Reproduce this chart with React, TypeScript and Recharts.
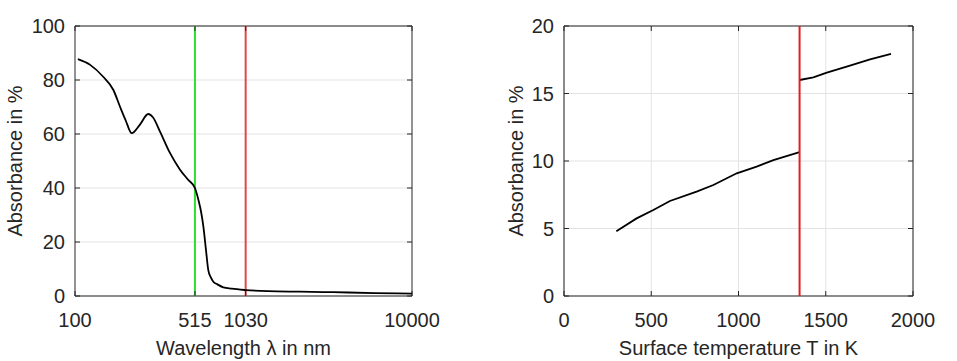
import { LineChart, Line, XAxis, YAxis, CartesianGrid, ReferenceLine, ReferenceArea } from 'recharts';

// absorbance spectrum (left panel), log wavelength axis
const wavelengthNm = [104, 123, 147, 169, 185, 200, 217, 243, 272, 290, 320, 366, 420, 470, 515, 540, 560, 578, 599, 618, 640, 662, 700, 759, 850, 1030, 1400, 2160, 3400, 6000, 10000];
const absorbanceSpectrum = [87.7, 85.6, 81.2, 76.3, 70.1, 65.0, 60.3, 63.5, 67.4, 66.2, 60.8, 53.0, 46.8, 43.0, 40.0, 35.6, 31.2, 25.7, 17.0, 9.6, 6.9, 5.3, 4.3, 3.2, 2.7, 2.2, 1.8, 1.6, 1.4, 1.1, 0.9];
const spectrumXTicks = [100, 515, 1030, 10000];
const spectrumYTicks = [0, 20, 40, 60, 80, 100];
const greenLaserNm = 515;
const irLaserNm = 1030;

// absorbance vs surface temperature (right panel), jump at the melting point
const tempLowK = [300, 416, 512, 607, 760, 856, 990, 1104, 1200, 1350];
const absLow = [4.8, 5.75, 6.37, 7.04, 7.73, 8.22, 9.09, 9.58, 10.07, 10.65];
const tempHighK = [1350, 1429, 1506, 1620, 1754, 1874];
const absHigh = [16.0, 16.2, 16.54, 16.99, 17.53, 17.93];
const tempXTicks = [0, 500, 1000, 1500, 2000];
const tempYTicks = [0, 5, 10, 15, 20];
const meltingK = 1350;

const spectrumData = wavelengthNm.map((w, i) => ({ w, a: absorbanceSpectrum[i] }));
const lowData = tempLowK.map((t, i) => ({ t, a: absLow[i] }));
const highData = tempHighK.map((t, i) => ({ t, a: absHigh[i] }));

const FONT = '"Liberation Sans", Arial, Helvetica, sans-serif';
const INK = '#262626';
const GRID = '#e3e3e3';
const TICK_LEN = 5;
const FS = 20;

const TOP = 26;
const H = 361;
const X_AXIS_H = 65;

const makeXTick = (top: number) => (p: any) => (
  <g>
    <line x1={p.x} x2={p.x} y1={p.y} y2={p.y - TICK_LEN} stroke={INK} />
    <line x1={p.x} x2={p.x} y1={top} y2={top + TICK_LEN} stroke={INK} />
    <text x={p.x} y={p.y + 31} textAnchor="middle" fill={INK} fontSize={FS} fontFamily={FONT}>
      {p.payload.value}
    </text>
  </g>
);

const makeYTick = (right: number) => (p: any) => (
  <g>
    <line x1={p.x} x2={p.x + TICK_LEN} y1={p.y} y2={p.y} stroke={INK} />
    <line x1={right - TICK_LEN} x2={right} y1={p.y} y2={p.y} stroke={INK} />
    <text x={p.x - 10} y={p.y + 7} textAnchor="end" fill={INK} fontSize={FS} fontFamily={FONT}>
      {p.payload.value}
    </text>
  </g>
);

const titleStyle = { fill: INK, fontSize: FS, fontFamily: FONT };

export default function App() {
  const leftW = 480;
  const leftYAxisW = 75;
  const leftRightM = 68;
  const rightW = 477;
  const rightYAxisW = 84;
  const rightRightM = 44;

  return (
    <div style={{ position: 'absolute', left: 0, top: 0, width: 957, height: H, background: '#fff', display: 'flex', fontFamily: FONT }}>
      <LineChart width={leftW} height={H} data={spectrumData} margin={{ top: TOP, right: leftRightM, bottom: 0, left: 0 }}>
        <CartesianGrid vertical={false} stroke={GRID} />
        <XAxis
          dataKey="w"
          type="number"
          scale="log"
          domain={[100, 10000]}
          ticks={spectrumXTicks}
          interval={0}
          allowDataOverflow
          height={X_AXIS_H}
          axisLine={false}
          tickLine={false}
          tickSize={0}
          tickMargin={0}
          tick={makeXTick(TOP)}
          label={{ value: 'Wavelength λ in nm', position: 'center', dy: 19.5, style: titleStyle }}
        />
        <YAxis
          type="number"
          domain={[0, 100]}
          ticks={spectrumYTicks}
          interval={0}
          width={leftYAxisW}
          axisLine={false}
          tickLine={false}
          tickSize={0}
          tickMargin={0}
          tick={makeYTick(leftW - leftRightM)}
          label={{ value: 'Absorbance in %', position: 'center', angle: -90, dx: -22.5, style: titleStyle }}
        />
        <ReferenceArea x1={100} x2={10000} y1={0} y2={100} fill="none" fillOpacity={0} stroke={INK} strokeWidth={1} />
        <ReferenceLine x={greenLaserNm} stroke="#2fdc2f" strokeWidth={2} />
        <ReferenceLine x={irLaserNm} stroke="#e04848" strokeWidth={2} />
        <Line type="monotone" dataKey="a" stroke="#000" strokeWidth={1.8} dot={false} isAnimationActive={false} />
      </LineChart>

      <LineChart width={rightW} height={H} margin={{ top: TOP, right: rightRightM, bottom: 0, left: 0 }}>
        <CartesianGrid stroke={GRID} />
        <XAxis
          dataKey="t"
          type="number"
          domain={[0, 2000]}
          ticks={tempXTicks}
          interval={0}
          height={X_AXIS_H}
          axisLine={false}
          tickLine={false}
          tickSize={0}
          tickMargin={0}
          tick={makeXTick(TOP)}
          label={{ value: 'Surface temperature T in K', position: 'center', dy: 19.5, style: titleStyle }}
        />
        <YAxis
          type="number"
          domain={[0, 20]}
          ticks={tempYTicks}
          interval={0}
          width={rightYAxisW}
          axisLine={false}
          tickLine={false}
          tickSize={0}
          tickMargin={0}
          tick={makeYTick(rightW - rightRightM)}
          label={{ value: 'Absorbance in %', position: 'center', angle: -90, dx: -6, style: titleStyle }}
        />
        <ReferenceArea x1={0} x2={2000} y1={0} y2={20} fill="none" fillOpacity={0} stroke={INK} strokeWidth={1} />
        <Line data={lowData} type="linear" dataKey="a" stroke="#000" strokeWidth={1.8} dot={false} isAnimationActive={false} />
        <Line data={highData} type="linear" dataKey="a" stroke="#000" strokeWidth={1.8} dot={false} isAnimationActive={false} />
        <ReferenceLine x={meltingK} stroke="#e41e1e" strokeWidth={2} />
      </LineChart>
    </div>
  );
}
